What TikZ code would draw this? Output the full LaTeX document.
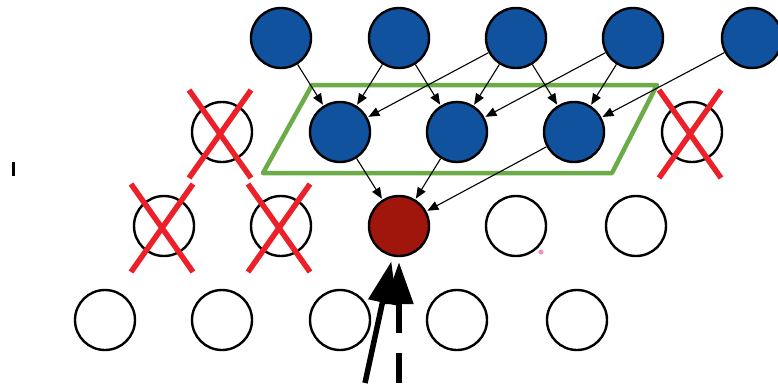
\documentclass[tikz,border=0pt]{standalone}
\usetikzlibrary{arrows.meta}
\definecolor{cellblue}{RGB}{16,82,158}
\definecolor{cellred}{RGB}{160,22,12}
\definecolor{boxgreen}{RGB}{108,172,72}
\definecolor{crossred}{RGB}{236,32,40}
\begin{document}
\begin{tikzpicture}[x=1pt,y=-1pt,line join=round,
	cell/.style={circle,draw=black,line width=2.4pt,minimum size=60pt,inner sep=0pt},
	hid/.style={cell,fill=cellblue},
	tgt/.style={cell,fill=cellred},
	dep/.style={line width=1.1pt,-{Triangle[length=11pt,width=9pt]},shorten >=1pt},
	inarrow/.style={line width=5.5pt,-{Triangle[length=42pt,width=28pt]},shorten >=5pt},
	xmark/.style={crossred,line width=5.5pt}]
	\clip (0,0) rectangle (778,383);
	\fill[white] (0,0) rectangle (778,383);
	% window
	\draw[boxgreen,line width=4.5pt] (312,85)--(657,85)--(612,173)--(263,173)--cycle;
	% rows
	\foreach \i/\x in {1/281,2/399,3/516,4/633,5/752} \node[hid] (t\i) at (\x,38) {};
	\node[cell] (x1) at (222,132) {}; \node[hid] (m1) at (340,132) {}; \node[hid] (m2) at (457,132) {}; \node[hid] (m3) at (574,132) {}; \node[cell] (x2) at (692,132) {};
	\node[cell] (x3) at (164,226) {}; \node[cell] (x4) at (281,226) {}; \node[tgt] (r) at (399,226) {}; \node[cell] (w1) at (516,226) {}; \node[cell] (w2) at (636,226) {};
	\foreach \i/\x in {1/105,2/222,3/340,4/457,5/577} \node[cell] (b\i) at (\x,320) {};
	% dependencies
	\foreach \a/\b in {t1/m1,t2/m1,t3/m1,t2/m2,t3/m2,t4/m2,t3/m3,t4/m3,t5/m3,m1/r,m2/r,m3/r} \draw[dep] (\a)--(\b);
	% removed cells
	\foreach \n in {x1,x2,x3,x4} \draw[xmark] (\n.center) ++(-33,-42)--++(62,88) (\n.center) ++(29,-42)--++(-62,88);
	% input arrows
	\coordinate (s1) at (365,383); \coordinate (s2) at (399,383);
	\draw[inarrow] (s1)--(r);
	\draw[inarrow,dash pattern=on 30pt off 20pt] (s2)--(r);
	\fill[magenta!45] (541,252) circle (2.5pt);
	\draw[line width=3pt] (13,162)--(13,176);
\end{tikzpicture}
\end{document}
